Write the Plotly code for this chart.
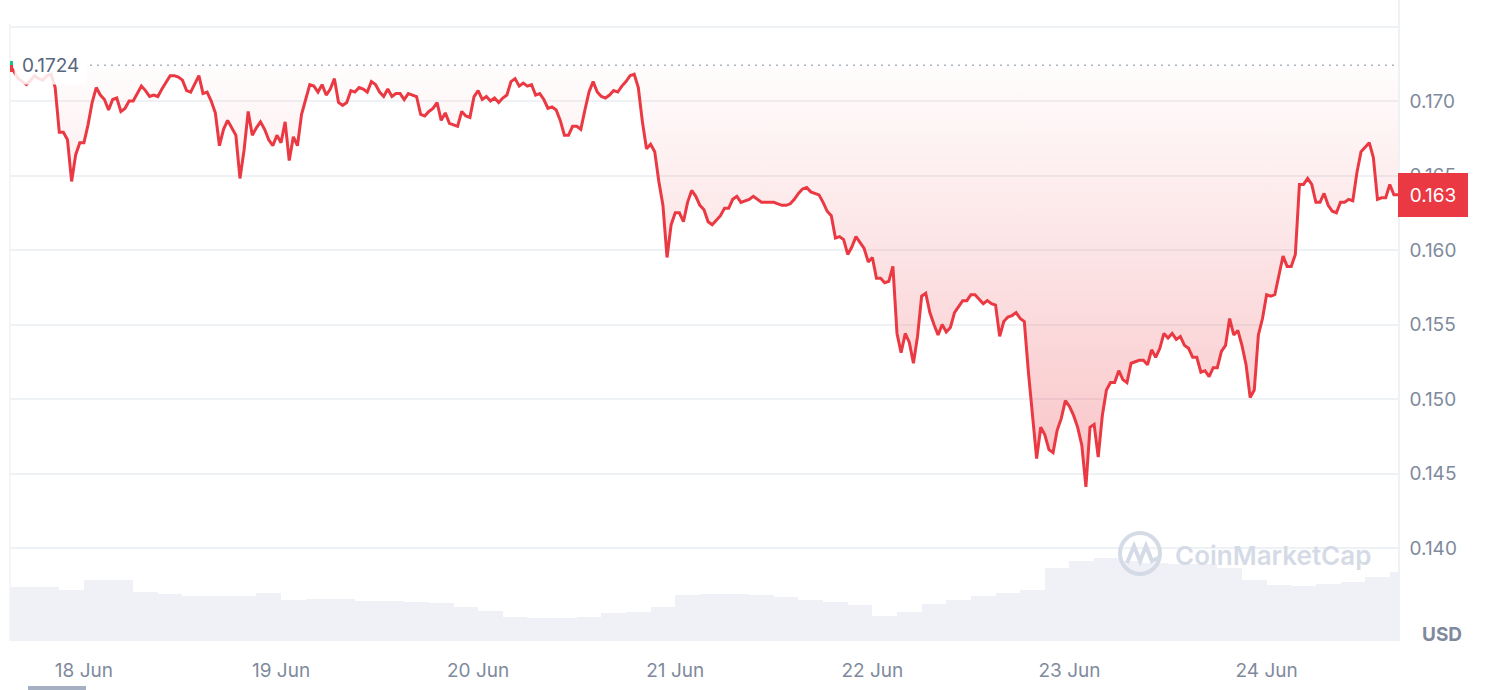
import pandas as pd
import plotly.graph_objects as go

# ---------------- data ----------------
price_start = "2024-06-17 15:00"   # half-hourly samples
prices = [
    0.1724, 0.1719, 0.1715, 0.1713, 0.1711, 0.1714, 0.1717, 0.1715, 0.1714, 0.1717,
    0.1718, 0.1709, 0.1679, 0.1679, 0.1674, 0.1646, 0.1664, 0.1672, 0.1672, 0.1684,
    0.1699, 0.1709, 0.1704, 0.1701, 0.1694, 0.1701, 0.1702, 0.1693, 0.1695, 0.1700,
    0.1700, 0.1705, 0.1710, 0.1707, 0.1703, 0.1704, 0.1703, 0.1708, 0.1713, 0.1717,
    0.1717, 0.1716, 0.1714, 0.1707, 0.1706, 0.1712, 0.1717, 0.1705, 0.1706, 0.1700,
    0.1692, 0.1670, 0.1681, 0.1687, 0.1682, 0.1677, 0.1648, 0.1667, 0.1693, 0.1677,
    0.1682, 0.1686, 0.1681, 0.1674, 0.1670, 0.1677, 0.1672, 0.1686, 0.1660, 0.1676,
    0.1670, 0.1691, 0.1701, 0.1711, 0.1710, 0.1706, 0.1711, 0.1704, 0.1708, 0.1715,
    0.1699, 0.1697, 0.1699, 0.1707, 0.1706, 0.1709, 0.1708, 0.1706, 0.1713, 0.1711,
    0.1706, 0.1703, 0.1708, 0.1703, 0.1705, 0.1705, 0.1701, 0.1705, 0.1704, 0.1703,
    0.1691, 0.1690, 0.1693, 0.1695, 0.1699, 0.1687, 0.1692, 0.1685, 0.1684, 0.1683,
    0.1693, 0.1690, 0.1689, 0.1703, 0.1707, 0.1701, 0.1703, 0.1700, 0.1702, 0.1699,
    0.1702, 0.1704, 0.1713, 0.1715, 0.1710, 0.1712, 0.1710, 0.1711, 0.1704, 0.1705,
    0.1701, 0.1695, 0.1696, 0.1694, 0.1687, 0.1677, 0.1677, 0.1683, 0.1683, 0.1681,
    0.1694, 0.1706, 0.1713, 0.1706, 0.1703, 0.1702, 0.1704, 0.1707, 0.1706, 0.1710,
    0.1713, 0.1717, 0.1718, 0.1709, 0.1686, 0.1668, 0.1671, 0.1666, 0.1646, 0.1630,
    0.1595, 0.1617, 0.1625, 0.1625, 0.1619, 0.1632, 0.1640, 0.1636, 0.1630, 0.1627,
    0.1619, 0.1617, 0.1620, 0.1623, 0.1628, 0.1628, 0.1634, 0.1636, 0.1632, 0.1633,
    0.1634, 0.1636, 0.1634, 0.1632, 0.1632, 0.1632, 0.1632, 0.1631, 0.1630, 0.1630,
    0.1631, 0.1634, 0.1638, 0.1641, 0.1642, 0.1639, 0.1638, 0.1637, 0.1632, 0.1626,
    0.1623, 0.1608, 0.1609, 0.1607, 0.1597, 0.1602, 0.1609, 0.1605, 0.1601, 0.1592,
    0.1595, 0.1581, 0.1581, 0.1578, 0.1579, 0.1589, 0.1544, 0.1531, 0.1544, 0.1538,
    0.1524, 0.1542, 0.1569, 0.1571, 0.1558, 0.1550, 0.1543, 0.1550, 0.1545, 0.1548,
    0.1558, 0.1562, 0.1566, 0.1566, 0.1570, 0.1570, 0.1567, 0.1564, 0.1566, 0.1564,
    0.1563, 0.1542, 0.1552, 0.1555, 0.1556, 0.1558, 0.1554, 0.1552, 0.1518, 0.1489,
    0.1460, 0.1481, 0.1476, 0.1466, 0.1464, 0.1479, 0.1487, 0.1499, 0.1495, 0.1489,
    0.1481, 0.1469, 0.1441, 0.1481, 0.1483, 0.1461, 0.1489, 0.1506, 0.1511, 0.1511,
    0.1519, 0.1513, 0.1511, 0.1524, 0.1525, 0.1526, 0.1526, 0.1523, 0.1533, 0.1528,
    0.1534, 0.1544, 0.1541, 0.1544, 0.1540, 0.1542, 0.1536, 0.1534, 0.1528, 0.1528,
    0.1518, 0.1519, 0.1515, 0.1521, 0.1521, 0.1532, 0.1536, 0.1554, 0.1543, 0.1546,
    0.1536, 0.1523, 0.1501, 0.1506, 0.1543, 0.1554, 0.1570, 0.1569, 0.1570, 0.1582,
    0.1596, 0.1589, 0.1589, 0.1597, 0.1644, 0.1644, 0.1648, 0.1644, 0.1632, 0.1632,
    0.1638, 0.1630, 0.1626, 0.1625, 0.1632, 0.1632, 0.1634, 0.1633, 0.1652, 0.1666,
    0.1669, 0.1672, 0.1662, 0.1634, 0.1635, 0.1635, 0.1644, 0.1637, 0.1637,
]

volume_start = "2024-06-17 15:00"  # 3-hourly volume bars (relative units)
volumes = [
    54, 54, 51, 61, 61, 49, 47, 45, 45, 45,
    48, 41, 42, 42, 40, 40, 39, 38, 34, 30,
    24, 23, 23, 24, 28, 29, 34, 46, 47, 47,
    46, 44, 41, 39, 36, 25, 29, 37, 41, 45,
    48, 51, 73, 80, 83, 80, 78, 77, 77, 73,
    61, 56, 55, 57, 59, 64, 69,
]

price_ticks = [0.140, 0.145, 0.150, 0.155, 0.160, 0.165, 0.170, 0.175]
price_tick_labels = ["0.140", "0.145", "0.150", "0.155", "0.160", "0.165", "0.170", ""]
baseline_label = "0.1724"
last_label = "0.163"

# ---------------- styling ----------------
RED = "#ea3943"
GRID = "#eff2f5"
TXT = "#808a9d"
FONT = "Inter"

W, H = 1500, 690
L, R, T, B = 10, 102, 0, 49
PW, PH = W - L - R, H - T - B


def px(x):
    return (x - L) / PW


def py(y):
    return (H - B - y) / PH


times = pd.date_range(price_start, periods=len(prices), freq="30min")
vtimes = pd.date_range(volume_start, periods=len(volumes), freq="3h")
baseline = prices[0]

fig = go.Figure()

# volume
fig.add_trace(go.Bar(
    x=vtimes, y=volumes, yaxis="y2",
    width=3 * 3600 * 1000, offset=0,
    marker=dict(color="#eff1f6", line=dict(width=0)),
    hoverinfo="skip", showlegend=False,
))

# baseline (invisible) for the fill
fig.add_trace(go.Scatter(
    x=times, y=[baseline] * len(times), mode="lines",
    line=dict(width=0, color="rgba(0,0,0,0)"),
    hoverinfo="skip", showlegend=False,
))

# price
fig.add_trace(go.Scatter(
    x=times, y=prices, mode="lines",
    line=dict(color=RED, width=3),
    fill="tonexty",
    fillgradient=dict(
        type="vertical",
        colorscale=[[0, "rgba(234,57,67,0.30)"], [1, "rgba(234,57,67,0.01)"]],
    ),
    showlegend=False,
))

shapes = [
    # left frame line
    dict(type="line", xref="paper", yref="paper", x0=0, x1=0, y0=0, y1=py(24),
         line=dict(color=GRID, width=1.5), layer="below"),
    # dotted baseline
    dict(type="line", xref="paper", yref="y", x0=px(90), x1=1, y0=baseline, y1=baseline,
         line=dict(color="#a9b3c2", width=1.5, dash="2px,5px")),
    # small start marker
    dict(type="rect", xref="paper", yref="paper", x0=px(10), x1=px(13), y0=py(65), y1=py(61),
         fillcolor="#16c784", line=dict(width=0)),
    dict(type="rect", xref="paper", yref="paper", x0=px(10), x1=px(13), y0=py(72), y1=py(65),
         fillcolor=RED, line=dict(width=0)),
    # watermark logo
    dict(type="circle", xref="paper", yref="paper", x0=px(1120), x1=px(1160), y0=py(574), y1=py(533),
         line=dict(color="#d5dbe6", width=4)),
    dict(type="path", xref="paper", yref="paper",
         path="M {} {} L {} {} L {} {} L {} {} L {} {} L {} {}".format(
             px(1127), py(563), px(1134), py(546), px(1140), py(561),
             px(1146), py(546), px(1152), py(561), px(1160), py(557)),
         line=dict(color="#d5dbe6", width=4)),
    # bottom pill
    dict(type="rect", xref="paper", yref="paper", x0=px(28), x1=px(86), y0=py(695), y1=py(686),
         fillcolor="#a6b0c3", line=dict(width=0)),
]

annotations = [
    dict(text=baseline_label, xref="paper", yref="y", x=px(14), y=baseline,
         xanchor="left", yanchor="middle", showarrow=False,
         font=dict(family=FONT, size=19, color="#58667e"),
         bgcolor="rgba(255,255,255,0.85)", borderpad=7),
    dict(text=last_label, xref="paper", yref="y", x=1, y=prices[-1],
         xanchor="left", yanchor="middle", showarrow=False,
         font=dict(family=FONT, size=19, color="white"),
         bgcolor=RED, bordercolor=RED, borderwidth=1, borderpad=8, width=52, height=26),
    dict(text="USD", xref="paper", yref="paper", x=px(1420), y=py(634),
         xanchor="left", yanchor="middle", showarrow=False,
         font=dict(family=FONT, size=19, color=TXT, weight=700)),
    dict(text="CoinMarketCap", xref="paper", yref="paper", x=px(1173), y=py(555),
         xanchor="left", yanchor="middle", showarrow=False,
         font=dict(family=FONT, size=26, color="#d5dbe6", weight=600)),
]

pmin, pmax = 0.170 - (PH - 101) / 14900, 0.170 + 101 / 14900

fig.update_layout(
    width=W, height=H,
    margin=dict(l=L, r=R, t=T, b=B),
    paper_bgcolor="white", plot_bgcolor="white",
    font=dict(family=FONT, color=TXT, size=19),
    bargap=0,
    xaxis=dict(
        type="date", range=[times[0], times[-1]],
        showgrid=False, zeroline=False, showline=False,
        tickformat="%d %b", dtick=86400000, tick0="2024-06-18",
        ticks="", ticklabelstandoff=16,
        tickfont=dict(family=FONT, size=19, color=TXT),
    ),
    yaxis=dict(
        side="right", range=[pmin, pmax],
        tickvals=price_ticks, ticktext=price_tick_labels,
        showgrid=True, gridcolor=GRID, gridwidth=1.5,
        zeroline=False, showline=True, linecolor=GRID, linewidth=1.5,
        ticks="", ticklabelstandoff=6,
        tickfont=dict(family=FONT, size=19, color=TXT),
    ),
    yaxis2=dict(
        overlaying="y", range=[0, PH], showgrid=False, zeroline=False,
        showticklabels=False, showline=False,
    ),
    shapes=shapes,
    annotations=annotations,
    showlegend=False,
)

fig.write_html("out.html", config={"displayModeBar": False},
               post_script="document.body.style.margin='0';")
